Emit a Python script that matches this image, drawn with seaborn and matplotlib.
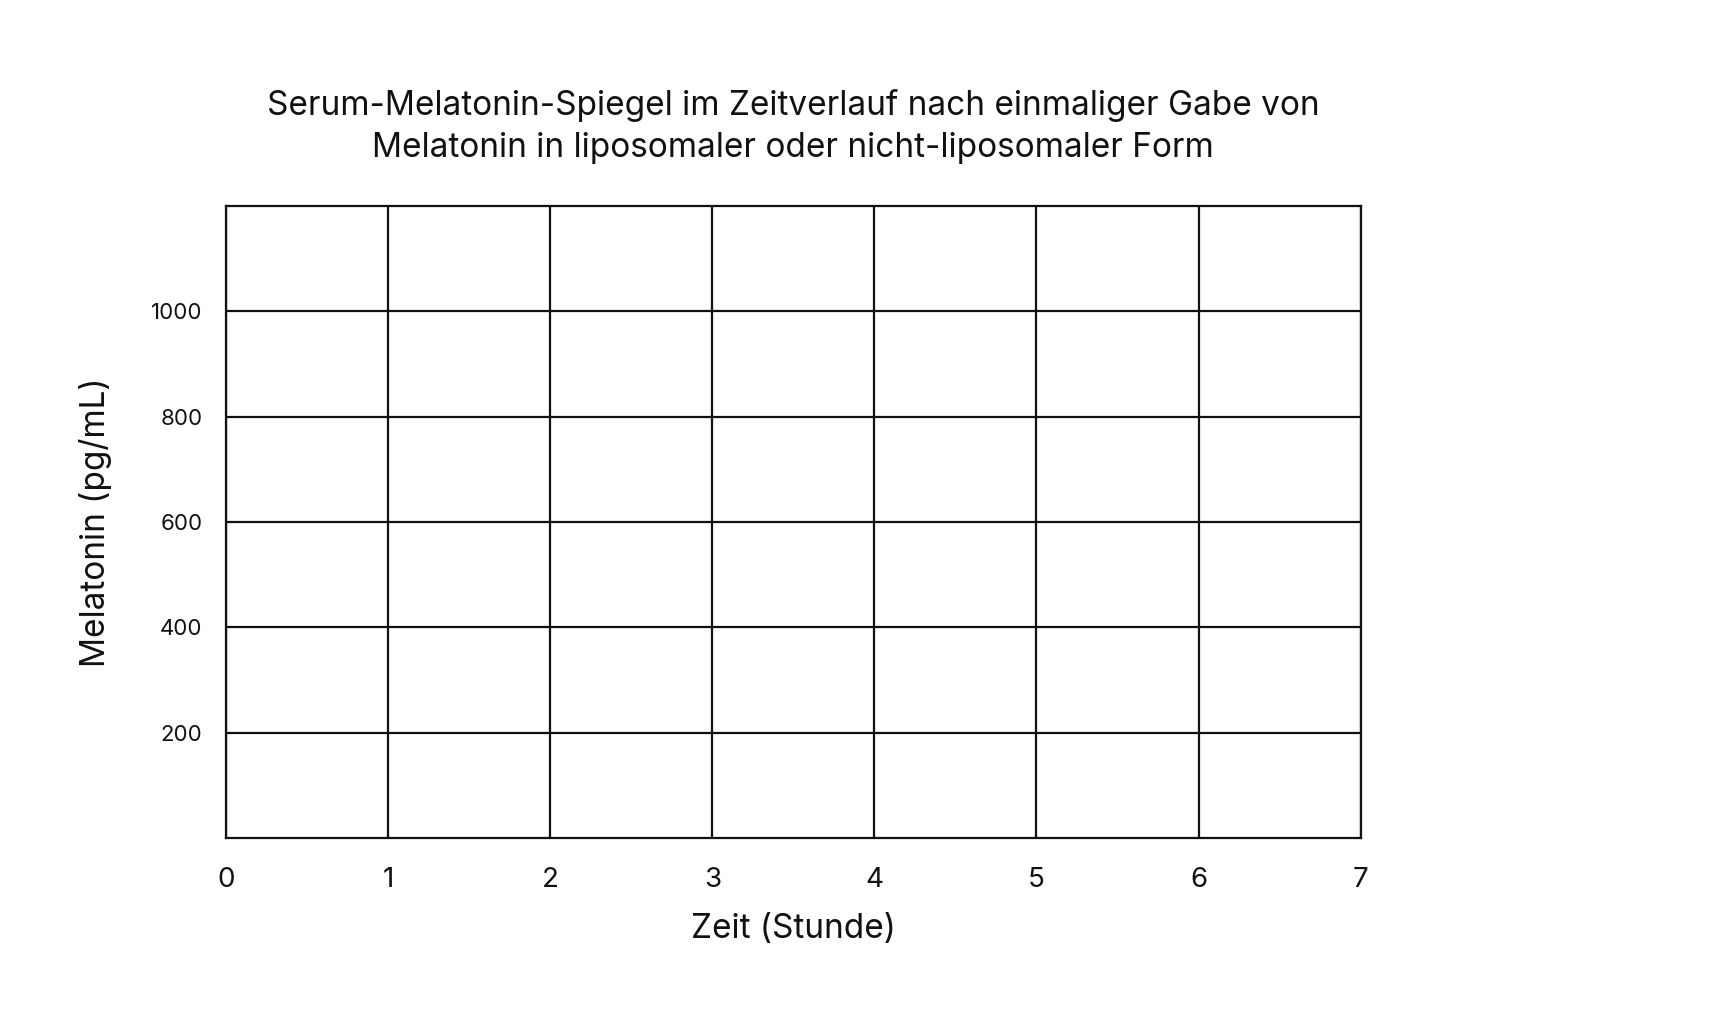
import numpy as np
import pandas as pd
import matplotlib
matplotlib.use("Agg")
import matplotlib.pyplot as plt
import seaborn as sns

# chart data: an empty worksheet grid, only axes and ticks
title_lines = ["Serum-Melatonin-Spiegel im Zeitverlauf nach einmaliger Gabe von",
               "Melatonin in liposomaler oder nicht-liposomaler Form"]
x_ticks = [0, 1, 2, 3, 4, 5, 6, 7]
y_ticks = [200, 400, 600, 800, 1000]
x_label = "Zeit (Stunde)"
y_label = "Melatonin (pg/mL)"
y_max = 1200

sns.set_theme(style="white")
plt.rcParams['font.family'] = ['Inter', 'DejaVu Sans']

fig = plt.figure(figsize=(17.19, 10.29), dpi=100)
ax = fig.add_axes([0.1315, 0.1853, 0.6600, 0.6147])

# empty series so the axes are built through seaborn
empty = pd.DataFrame({"x": pd.Series([], dtype=float), "y": pd.Series([], dtype=float)})
sns.lineplot(data=empty, x="x", y="y", ax=ax)

ax.set_xlim(x_ticks[0], x_ticks[-1])
ax.set_ylim(0, y_max)
ax.set_xticks(x_ticks)
ax.set_yticks(y_ticks)
ax.set_xticklabels([str(t) for t in x_ticks], fontsize=20)
ax.set_yticklabels([str(t) for t in y_ticks], fontsize=16)
ax.tick_params(axis="x", length=0, pad=21, colors="#111111")
ax.tick_params(axis="y", length=0, pad=17, colors="#111111")

ax.grid(True, color="#111111", linewidth=1.6)
for s in ax.spines.values():
    s.set_visible(True)
    s.set_color("#111111")
    s.set_linewidth(1.6)

ax.set_xlabel(x_label, fontsize=24, labelpad=14, color="#111111")
ax.set_ylabel(y_label, fontsize=24, labelpad=28, color="#111111")
ax.set_title("\n".join(title_lines), fontsize=24, pad=35, color="#111111", linespacing=1.4)

fig.savefig("out.png", dpi=100, facecolor="white")
